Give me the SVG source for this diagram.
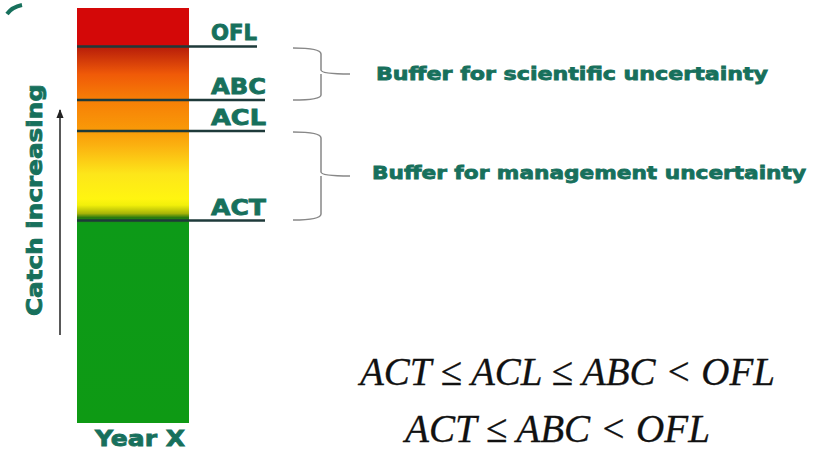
<svg xmlns="http://www.w3.org/2000/svg" width="832" height="474" viewBox="0 0 832 474">
<style>
.lbl{font-family:"DejaVu Sans","Liberation Sans",sans-serif;font-weight:bold;fill:#17705c;stroke:#17705c;stroke-width:0.8}
.eq{font-family:"Liberation Serif","Times New Roman",serif;font-style:italic;fill:#111;stroke:#111;stroke-width:0.3}
.lvl{stroke:#1e3a3a;stroke-width:2.5}
.brace{fill:none;stroke:#888;stroke-width:1.5}
</style>
<defs>
<linearGradient id="bar" x1="0" y1="8" x2="0" y2="423" gradientUnits="userSpaceOnUse">
<stop offset="0" stop-color="#d40808"/>
<stop offset="0.092" stop-color="#d40808"/>
<stop offset="0.095" stop-color="#b81e0a"/>
<stop offset="0.16" stop-color="#f05a08"/>
<stop offset="0.22" stop-color="#f77e06"/>
<stop offset="0.295" stop-color="#f99a08"/>
<stop offset="0.33" stop-color="#fbb010"/>
<stop offset="0.4" stop-color="#fde61a"/>
<stop offset="0.46" stop-color="#fff510"/>
<stop offset="0.475" stop-color="#f2f00a"/>
<stop offset="0.495" stop-color="#a8b408"/>
<stop offset="0.505" stop-color="#2a7a10"/>
<stop offset="0.52" stop-color="#0d9a18"/>
<stop offset="1" stop-color="#0e9a14"/>
</linearGradient>
<marker id="ah" viewBox="0 0 10 10" refX="9" refY="5" markerWidth="6" markerHeight="6" orient="auto">
<path d="M0,1 L10,5 L0,9 z" fill="#222"/>
</marker>
</defs>
<rect width="832" height="474" fill="#ffffff"/>
<path d="M7,14 Q12,7 22,5" fill="none" stroke="#17705c" stroke-width="4"/>
<g id="bar-node">
<rect x="77" y="8" width="112" height="415" fill="url(#bar)"/>
</g>
<g id="levels">
<line class="lvl" x1="77" y1="46.5" x2="257" y2="46.5"/>
<line class="lvl" x1="77" y1="100" x2="265" y2="100"/>
<line class="lvl" x1="77" y1="131" x2="265" y2="131"/>
<line class="lvl" x1="77" y1="220.5" x2="265" y2="220.5"/>
</g>
<g id="level-labels">
<text class="lbl" x="211" y="40" font-size="21" textLength="46" lengthAdjust="spacingAndGlyphs">OFL</text>
<text class="lbl" x="211" y="94" font-size="21" textLength="55" lengthAdjust="spacingAndGlyphs">ABC</text>
<text class="lbl" x="211" y="125" font-size="21" textLength="55" lengthAdjust="spacingAndGlyphs">ACL</text>
<text class="lbl" x="211" y="215" font-size="21" textLength="55" lengthAdjust="spacingAndGlyphs">ACT</text>
</g>
<g id="connectors">
<line x1="60" y1="335" x2="60" y2="110" stroke="#222" stroke-width="1.5" marker-end="url(#ah)"/>
<path class="brace" d="M293,48 Q321,48 321,54 L321,70 Q321,74 350,74 M321,74 Q321,78 321,82 L321,95 Q321,100 293,100"/>
<path class="brace" d="M293,132 Q321,132 321,138 L321,172 Q321,176 350,176 M321,176 Q321,180 321,184 L321,214 Q321,220 293,220"/>
</g>
<g id="axis-label">
<text class="lbl" transform="translate(42,200) rotate(-90)" text-anchor="middle" font-size="22" textLength="232" lengthAdjust="spacingAndGlyphs">Catch increasing</text>
</g>
<g id="year-label">
<text class="lbl" x="95" y="446" font-size="21" textLength="90" lengthAdjust="spacingAndGlyphs">Year X</text>
</g>
<g id="buffer-scientific">
<text class="lbl" x="376" y="80" font-size="18" textLength="392" lengthAdjust="spacingAndGlyphs">Buffer for scientific uncertainty</text>
</g>
<g id="buffer-management">
<text class="lbl" x="372" y="179" font-size="18" textLength="434" lengthAdjust="spacingAndGlyphs">Buffer for management uncertainty</text>
</g>
<g id="equations">
<text class="eq" x="360" y="385" font-size="40" textLength="415" lengthAdjust="spacingAndGlyphs">ACT ≤ ACL ≤ ABC &lt; OFL</text>
<text class="eq" x="405" y="442" font-size="40" textLength="305" lengthAdjust="spacingAndGlyphs">ACT ≤ ABC &lt; OFL</text>
</g>
</svg>
